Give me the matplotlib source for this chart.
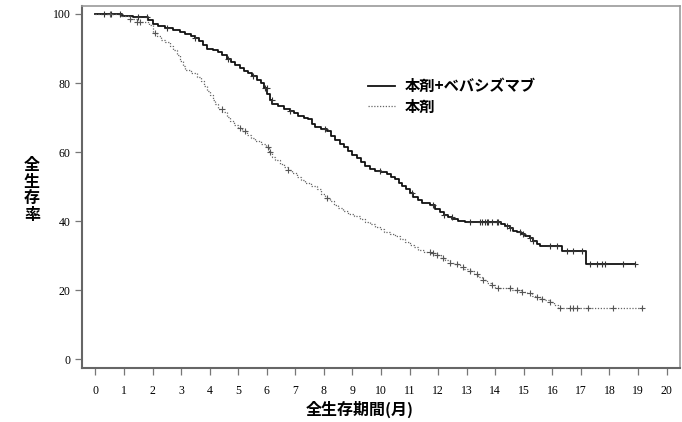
import numpy as np
import matplotlib
matplotlib.use("Agg")
import matplotlib.pyplot as plt
from matplotlib.lines import Line2D

plt.rcParams['font.family'] = ['Noto Sans CJK JP', 'DejaVu Sans']

# ---- data ----
combo_label = "本剤+ベバシズマブ"
mono_label = "本剤"

combo_t = [0, 0.92, 1.3, 1.85, 2.03, 2.2, 2.45, 2.7, 2.97, 3.15, 3.35, 3.49, 3.62, 3.75,
           3.9, 4.1, 4.3, 4.45, 4.6, 4.75, 4.9, 5.06, 5.2, 5.35, 5.5, 5.65, 5.8, 5.92,
           6.02, 6.11, 6.2, 6.4, 6.6, 6.8, 6.95, 7.1, 7.3, 7.45, 7.58, 7.7, 7.9, 8.1,
           8.25, 8.4, 8.55, 8.7, 8.85, 9.0, 9.15, 9.3, 9.45, 9.6, 9.8, 10.0, 10.2, 10.35,
           10.5, 10.62, 10.75, 10.88, 11.0, 11.12, 11.28, 11.42, 11.7, 11.9, 12.05, 12.2,
           12.35, 12.5, 12.7, 12.95, 14.2, 14.35, 14.5, 14.62, 14.75, 14.9, 15.05, 15.2,
           15.32, 15.45, 15.55, 16.33, 17.17, 18.89]
combo_s = [100, 99.4, 99.0, 98.2, 97.2, 96.6, 96.0, 95.5, 94.8, 94.2, 93.6, 93.0, 92.2, 91.0,
           89.8, 89.6, 89.0, 88.0, 87.0, 86.2, 85.3, 84.4, 83.6, 82.8, 81.9, 81.0, 80.1, 78.6,
           76.8, 75.0, 74.0, 73.3, 72.6, 71.9, 71.3, 70.6, 70.0, 69.5, 68.2, 67.4, 66.8, 66.0,
           64.8, 63.4, 62.4, 61.4, 60.4, 59.2, 58.2, 57.0, 55.9, 55.0, 54.6, 54.2, 53.6, 52.9,
           52.1, 51.2, 50.2, 49.2, 48.1, 47.0, 46.2, 45.3, 44.8, 43.6, 42.6, 41.8,
           41.1, 40.5, 40.1, 39.7, 39.2, 38.6, 37.9, 37.3, 36.8, 36.2, 35.6, 35.0,
           34.2, 33.4, 32.8, 31.3, 27.6, 27.6]
combo_cens = [0.3, 0.55, 0.86, 1.5, 1.8, 2.5, 3.49, 4.66, 5.53, 5.94, 6.0, 6.17, 6.82, 8.04,
              9.97, 11.07, 11.83, 12.2, 12.47, 13.11, 13.46, 13.53, 13.64, 13.7, 13.76, 13.88,
              14.05, 14.1, 14.4, 14.52, 14.87, 14.98, 15.22, 15.33, 15.92, 16.15, 16.5,
              16.73, 17.03, 17.32, 17.55, 17.73, 17.84, 18.48, 18.89]

mono_t = [0, 0.86, 1.2, 1.45, 1.86, 2.03, 2.15, 2.3, 2.45, 2.6, 2.73, 2.85, 2.95, 3.05, 3.15,
          3.35, 3.55, 3.7, 3.8, 3.9, 4.0, 4.1, 4.2, 4.3, 4.45, 4.6, 4.7, 4.85, 5.0, 5.15,
          5.3, 5.45, 5.6, 5.8, 5.98, 6.08, 6.18, 6.3, 6.45, 6.6, 6.75, 6.9, 7.05, 7.2, 7.35,
          7.55, 7.75, 7.9, 8.05, 8.2, 8.35, 8.5, 8.68, 8.85, 9.05, 9.25, 9.45, 9.6, 9.8,
          9.95, 10.1, 10.3, 10.5, 10.65, 10.85, 11.0, 11.15, 11.3, 11.5, 11.75, 11.95, 12.1,
          12.25, 12.4, 12.55, 12.75, 12.9, 13.1, 13.25, 13.4, 13.55, 13.7, 13.85, 14.0, 14.3,
          14.6, 14.9, 15.1, 15.3, 15.45, 15.6, 15.75, 15.92, 16.05, 16.2, 19.15]
mono_s = [100, 99.4, 98.6, 97.6, 96.8, 94.5, 93.6, 92.6, 91.8, 90.6, 89.6, 88.0, 86.5, 85.0,
          83.8, 83.0, 81.8, 80.6, 79.2, 77.8, 76.4, 75.0, 73.8, 72.6, 71.6, 70.2, 69.0, 68.0,
          67.1, 66.0, 65.0, 64.0, 63.2, 62.4, 61.6, 60.0, 58.6, 57.6, 56.6, 55.6, 54.8, 54.0,
          52.8, 51.8, 51.0, 50.3, 49.2, 48.0, 46.8, 45.8, 44.8, 43.8, 43.0, 42.2, 41.4, 40.6,
          39.8, 39.2, 38.4, 37.6, 37.0, 36.4, 35.6, 34.9, 34.0, 33.2, 32.4, 31.7, 31.2, 30.7,
          30.1, 29.4, 28.7, 28.0, 27.5, 26.8, 26.2, 25.6, 24.8, 23.8, 23.0, 22.2, 21.5, 20.7,
          20.6, 20.2, 19.6, 19.1, 18.4, 18.0, 17.5, 17.1, 16.6, 15.8, 15.0, 15.0]
mono_cens = [0.5, 1.2, 1.45, 1.56, 2.09, 4.42, 5.06, 5.24, 6.06, 6.11, 6.76, 8.1,
             11.71, 11.83, 11.95, 12.18, 12.41, 12.65, 12.87, 13.11, 13.35, 13.58, 13.88,
             14.1, 14.52, 14.75, 14.92, 15.22, 15.45, 15.63, 15.92, 16.27, 16.62, 16.73,
             16.85, 17.26, 18.13, 19.15]

x_ticks = list(range(0, 21))
y_ticks = [0, 20, 40, 60, 80, 100]
x_label = "全生存期間(月)"
y_label = "全\n生\n存\n率"


def step_value(times, surv, pts):
    t = np.asarray(times)
    s = np.asarray(surv)
    idx = np.searchsorted(t, np.asarray(pts), side='right') - 1
    return s[idx]


fig = plt.figure(figsize=(6.82, 4.22), dpi=100)
ax = fig.add_axes([0.1198, 0.128, 0.8777, 0.8585])

solid_kw = dict(color='#111111', lw=1.3)
dot_kw = dict(color='#666666', lw=0.9, linestyle=(0, (1.0, 1.3)))

ax.plot(combo_t, combo_s, drawstyle='steps-post', **solid_kw)
ax.plot(mono_t, mono_s, drawstyle='steps-post', **dot_kw)
ax.plot(combo_cens, step_value(combo_t, combo_s, combo_cens), ls='none', marker='+',
        ms=5, mew=0.8, color='#333333')
ax.plot(mono_cens, step_value(mono_t, mono_s, mono_cens), ls='none', marker='+',
        ms=5, mew=0.8, color='#555555')

ax.set_xlim(-0.48, 20.48)
ax.set_ylim(-2.5, 102.4)
ax.set_xticks(x_ticks)
ax.set_yticks(y_ticks)
ax.set_xticklabels([str(v) for v in x_ticks], family='Liberation Serif', fontsize=8.5)
ax.set_yticklabels([str(v) for v in y_ticks], family='Liberation Serif', fontsize=8.5)
ax.tick_params(direction='out', length=5, width=0.9, color='#777777', pad=3)
ax.tick_params(axis='x', pad=7)

for side in ['left', 'bottom']:
    ax.spines[side].set_color('#666666')
    ax.spines[side].set_linewidth(1.5)
for side in ['top', 'right']:
    ax.spines[side].set_color('#999999')
    ax.spines[side].set_linewidth(1.2)

fig.text(360 / 682, 1 - 409 / 422, x_label, ha='center', va='center',
         fontsize=11.5, fontweight='bold')
fig.text(32 / 682, 1 - 190 / 422, y_label, ha='center', va='center',
         fontsize=11.5, fontweight='bold', linespacing=1.05)

handles = [Line2D([], [], **solid_kw), Line2D([], [], **dot_kw)]
ax.legend(handles, [combo_label, mono_label], loc='upper left',
          bbox_to_anchor=(0.478, 0.80), frameon=False,
          handlelength=1.8, handletextpad=0.6, labelspacing=0.3,
          borderpad=0, borderaxespad=0, prop={'weight': 'bold', 'size': 11})

fig.savefig("out.png", dpi=100)
